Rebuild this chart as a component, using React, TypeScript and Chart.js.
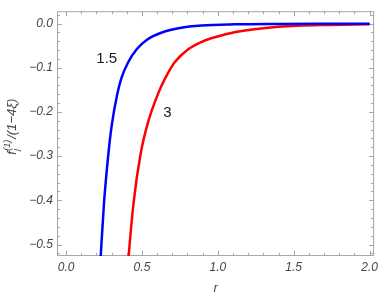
import React, { useEffect, useRef } from "react";
import { Chart, registerables } from "chart.js";

Chart.register(...registerables);

// Series (r, value)
const blueR = [0.222, 0.228, 0.25, 0.278, 0.3, 0.337, 0.365, 0.41, 0.465, 0.531, 0.64, 0.75, 0.893, 1.11, 1.4, 1.7, 2.0];
const blueV = [-0.56, -0.527, -0.405, -0.297, -0.232, -0.16, -0.123, -0.087, -0.058, -0.037, -0.019, -0.01, -0.0045, -0.0018, -0.0008, -0.0004, -0.0002];
const redR = [0.405, 0.412, 0.445, 0.49, 0.538, 0.607, 0.651, 0.717, 0.805, 0.903, 0.98, 1.11, 1.3, 1.52, 1.74, 2.0];
const redV = [-0.56, -0.527, -0.405, -0.297, -0.226, -0.158, -0.125, -0.087, -0.058, -0.04, -0.031, -0.0195, -0.0105, -0.005, -0.003, -0.0015];

const seriesNames = ["1.5", "3"];
const seriesColors = ["#0000ff", "#ff0000"];
const labelR = [0.268, 0.667];
const labelV = [-0.08, -0.201];

const xMajorTicks = [0, 0.5, 1.0, 1.5, 2.0];
const yMajorTicks = [-0.5, -0.4, -0.3, -0.2, -0.1, 0.0];
const xMinorStep = 0.1;
const yMinorStep = 0.02;

const fmt = (v: number) => {
  if (Math.abs(v) < 1e-9) return "0.0";
  return (v < 0 ? "\u2212" : "") + Math.abs(v).toFixed(1);
};

const FONT = "'Liberation Sans', Arial, sans-serif";

const framePlugin = {
  id: "framePlugin",
  beforeDatasetsDraw(chart: any) {
    const { ctx, chartArea: a, scales } = chart;
    const xs = scales.x, ys = scales.y;
    ctx.save();
    ctx.strokeStyle = "#a6a6a6";
    ctx.lineWidth = 1;
    ctx.strokeRect(a.left + 0.5, a.top + 0.5, a.right - a.left - 1, a.bottom - a.top - 1);
    ctx.beginPath();
    const tickX = (v: number, len: number) => {
      const p = Math.round(xs.getPixelForValue(v)) + 0.5;
      ctx.moveTo(p, a.bottom);
      ctx.lineTo(p, a.bottom - len);
      ctx.moveTo(p, a.top);
      ctx.lineTo(p, a.top + len);
    };
    const tickY = (v: number, len: number) => {
      const p = Math.round(ys.getPixelForValue(v)) + 0.5;
      ctx.moveTo(a.left, p);
      ctx.lineTo(a.left + len, p);
      ctx.moveTo(a.right, p);
      ctx.lineTo(a.right - len, p);
    };
    for (let i = 0; i <= 20; i++) {
      const v = i * xMinorStep;
      const major = xMajorTicks.some((m) => Math.abs(m - v) < 1e-9);
      tickX(v, major ? 5 : 3);
    }
    for (let i = -26; i <= 1; i++) {
      const v = i * yMinorStep;
      if (v < ys.min || v > ys.max) continue;
      const major = yMajorTicks.some((m) => Math.abs(m - v) < 1e-9);
      tickY(v, major ? 5 : 3);
    }
    ctx.stroke();
    ctx.restore();
  },
  afterDraw(chart: any) {
    const { ctx, scales, chartArea: a } = chart;
    ctx.save();
    // series labels
    ctx.fillStyle = "#1a1a1a";
    ctx.font = `15px ${FONT}`;
    ctx.textAlign = "center";
    ctx.textBaseline = "middle";
    seriesNames.forEach((n, i) => {
      ctx.fillText(n, scales.x.getPixelForValue(labelR[i]), scales.y.getPixelForValue(labelV[i]));
    });
    // x title
    ctx.fillStyle = "#444";
    ctx.font = `italic 13px ${FONT}`;
    ctx.fillText("r", (a.left + a.right) / 2, 288);
    // y title with sub/superscripts
    ctx.translate(12, 127);
    ctx.rotate(-Math.PI / 2);
    const big = `italic 13px ${FONT}`;
    const small = `italic 9px ${FONT}`;
    ctx.font = big;
    const wF = ctx.measureText("f").width;
    const rest = "/(1\u22124\u03be)";
    const wRest = ctx.measureText(rest).width;
    ctx.font = small;
    const wSup = ctx.measureText("(1)").width;
    const wSub = ctx.measureText("j").width;
    const wMid = Math.max(wSup, wSub) + 1;
    const total = wF + wMid + wRest;
    let x = -total / 2;
    ctx.textAlign = "left";
    ctx.textBaseline = "alphabetic";
    ctx.font = big;
    ctx.fillText("f", x, 4);
    x += wF + 0.5;
    ctx.font = small;
    ctx.fillText("(1)", x, -2);
    ctx.fillText("j", x, 7);
    x += wMid;
    ctx.font = big;
    ctx.fillText(rest, x, 4);
    ctx.restore();
  },
};

export default function App() {
  const ref = useRef<HTMLCanvasElement | null>(null);
  useEffect(() => {
    if (!ref.current) return;
    const tickFont = { family: FONT, size: 12, style: "italic" as const };
    const chart = new Chart(ref.current, {
      type: "scatter",
      data: {
        datasets: [
          {
            label: seriesNames[0],
            data: blueR.map((r, i) => ({ x: r, y: blueV[i] })),
            borderColor: seriesColors[0],
            backgroundColor: seriesColors[0],
            showLine: true,
            pointRadius: 0,
            borderWidth: 2.5,
            cubicInterpolationMode: "monotone",
          },
          {
            label: seriesNames[1],
            data: redR.map((r, i) => ({ x: r, y: redV[i] })),
            borderColor: seriesColors[1],
            backgroundColor: seriesColors[1],
            showLine: true,
            pointRadius: 0,
            borderWidth: 2.5,
            cubicInterpolationMode: "monotone",
          },
        ],
      },
      options: {
        responsive: false,
        animation: false,
        layout: { padding: { top: 1, right: 7.5, left: 0, bottom: 0 } },
        plugins: { legend: { display: false }, tooltip: { enabled: false } },
        scales: {
          x: {
            type: "linear",
            min: -0.06,
            max: 2.03,
            grid: { display: false, drawTicks: false },
            border: { display: false },
            ticks: {
              stepSize: 0.5,
              includeBounds: false,
              autoSkip: false,
              maxRotation: 0,
              padding: 4,
              color: "#444",
              font: tickFont,
              callback: (v: any) => fmt(Number(v)),
            },
            afterFit: (s: any) => {
              s.height = 44;
            },
          },
          y: {
            type: "linear",
            min: -0.526,
            max: 0.028,
            grid: { display: false, drawTicks: false },
            border: { display: false },
            ticks: {
              stepSize: 0.1,
              includeBounds: false,
              autoSkip: false,
              padding: 4,
              color: "#444",
              font: tickFont,
              callback: (v: any) => fmt(Number(v)),
            },
            afterFit: (s: any) => {
              s.width = 57;
            },
          },
        },
      },
      plugins: [framePlugin],
    } as any);
    return () => chart.destroy();
  }, []);
  return (
    <div style={{ position: "fixed", left: 0, top: 0, width: 382, height: 300, background: "#fff" }}>
      <canvas ref={ref} width={382} height={300} style={{ width: 382, height: 300, display: "block" }} />
    </div>
  );
}
